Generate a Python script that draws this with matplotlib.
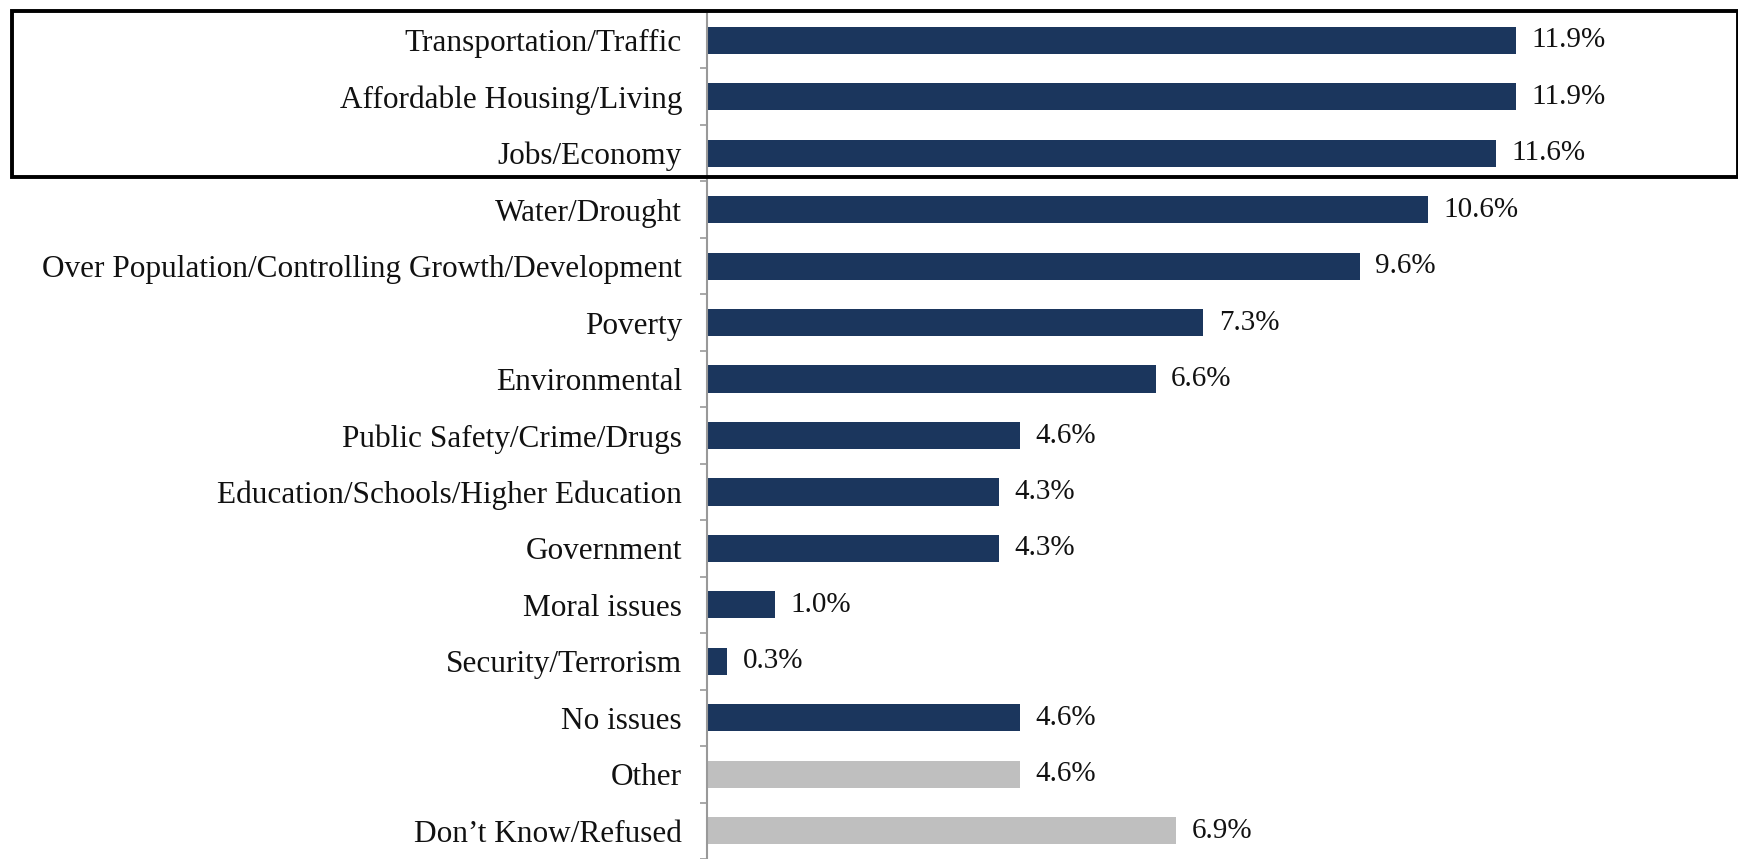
import matplotlib
matplotlib.use('agg')
import matplotlib.pyplot as plt
from matplotlib.patches import Rectangle
import numpy as np

# data
issues = ["Transportation/Traffic", "Affordable Housing/Living", "Jobs/Economy",
          "Water/Drought", "Over Population/Controlling Growth/Development",
          "Poverty", "Environmental", "Public Safety/Crime/Drugs",
          "Education/Schools/Higher Education", "Government", "Moral issues",
          "Security/Terrorism", "No issues", "Other", "Don\u2019t Know/Refused"]
pct = [11.9, 11.9, 11.6, 10.6, 9.6, 7.3, 6.6, 4.6, 4.3, 4.3, 1.0, 0.3, 4.6, 4.6, 6.9]
grey_items = ["Other", "Don\u2019t Know/Refused"]

navy = "#1B365D"
grey = "#BFBFBF"
font = ["Liberation Serif", "DejaVu Serif"]

fig = plt.figure(figsize=(17.38, 8.59), dpi=100)
ax = fig.add_axes([0.4068, 0.0, 0.5932, 0.986])

y = np.arange(len(issues))
colors = [grey if s in grey_items else navy for s in issues]
ax.barh(y, pct, height=0.48, color=colors)
ax.set_ylim(len(issues) - 0.5, -0.5)
ax.set_xlim(0, 15.16)

for yi, v in zip(y, pct):
    ax.annotate("%.1f%%" % v, (v, yi), xytext=(11, 0), textcoords="offset points",
                va="center", ha="left", fontsize=21, family=font, color="#111111")

ax.set_yticks(y)
ax.set_yticklabels(issues, family=font, fontsize=22.5, color="#111111")
ax.set_yticks(np.arange(len(issues) + 1) - 0.5, minor=True)
ax.tick_params(axis="y", which="major", length=0, pad=18)
ax.tick_params(axis="y", which="minor", length=5, width=1.2, color="#999999")
ax.set_xticks([])
for s in ["top", "right", "bottom"]:
    ax.spines[s].set_visible(False)
ax.spines["left"].set_color("#999999")
ax.spines["left"].set_linewidth(1.5)

# highlight box round the top three
fig.patches.append(Rectangle((12 / 1738, 1 - 177 / 859), 1 - 12 / 1738, (177 - 11) / 859,
                             transform=fig.transFigure, fill=False,
                             edgecolor="black", linewidth=2.8, zorder=10))

fig.savefig("out.png", dpi=100)
